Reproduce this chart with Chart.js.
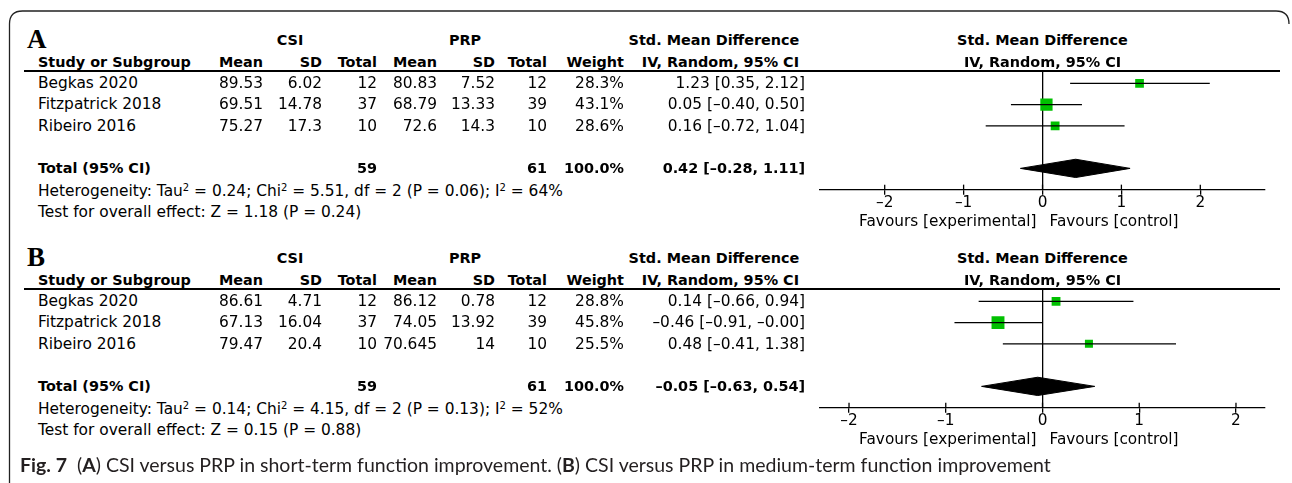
<!DOCTYPE html>
<html>
<head>
<meta charset="utf-8">
<script src="https://cdn.jsdelivr.net/npm/chart.js@4.4.1/dist/chart.umd.min.js"></script>
<style>
body { margin: 0; background: #fff; }
#page { position: relative; width: 1292px; height: 483px; overflow: hidden; font-family: "DejaVu Sans"; font-size: 15.4px; color: #000; }
.t { position: absolute; white-space: nowrap; line-height: 18px; }
.b { font-weight: bold; font-size: 14.4px; }
.t sup { font-size: 10px; line-height: 0; vertical-align: 5px; }
.letter { font-family: "Liberation Serif"; font-weight: bold; font-size: 27px; line-height: 30px; }
.rule { position: absolute; left: 24px; width: 1256px; height: 1.3px; background: #000; }
.wrap { position: absolute; left: 800px; width: 490px; height: 180px; }
#caption { position: absolute; left: 20px; top: 452px; line-height: 26px; font-family: "Lato"; font-size: 19.5px; color: #231f20; white-space: nowrap; }
</style>
</head>
<body>
<div id="page">
  <svg width="1292" height="483" style="position:absolute;left:0;top:0">
    <path d="M9.5 483 L9.5 24 Q9.5 11 22.5 11 L1276 11 Q1289 11 1289 24" fill="none" stroke="#222" stroke-width="1.3"/>
  </svg>
  <div class="wrap" id="wrapA" style="top:60px"><canvas id="plotA"></canvas></div>
  <div class="wrap" id="wrapB" style="top:278px"><canvas id="plotB"></canvas></div>
  <div id="caption"><b>Fig. 7</b>&nbsp; (<b>A</b>) CSI versus PRP in short-term function improvement. (<b>B</b>) CSI versus PRP in medium-term function improvement</div>
</div>
<script>
// studies in both panels
var studies = ['Begkas 2020', 'Fitzpatrick 2018', 'Ribeiro 2016'];

// A: short-term function improvement
var csiMeanA = [89.53, 69.51, 75.27];
var csiSdA = [6.02, 14.78, 17.3];
var csiNA = [12, 37, 10];
var prpMeanA = [80.83, 68.79, 72.6];
var prpSdA = [7.52, 13.33, 14.3];
var prpNA = [12, 39, 10];
var weightA = [28.3, 43.1, 28.6];
var smdA = [1.23, 0.05, 0.16];
var loA = [0.35, -0.40, -0.72];
var hiA = [2.12, 0.50, 1.04];
var totalNA = [59, 61];
var totalA = [0.42, -0.28, 1.11]; // estimate, lower, upper
var hetA = 'Heterogeneity: Tau<sup>2</sup> = 0.24; Chi<sup>2</sup> = 5.51, df = 2 (P = 0.06); I<sup>2</sup> = 64%';
var testA = 'Test for overall effect: Z = 1.18 (P = 0.24)';

// B: medium-term function improvement
var csiMeanB = [86.61, 67.13, 79.47];
var csiSdB = [4.71, 16.04, 20.4];
var csiNB = [12, 37, 10];
var prpMeanB = [86.12, 74.05, 70.645];
var prpSdB = [0.78, 13.92, 14];
var prpNB = [12, 39, 10];
var weightB = [28.8, 45.8, 25.5];
var smdB = [0.14, -0.46, 0.48];
var loB = [-0.66, -0.91, -0.41];
var hiB = [0.94, -0.00, 1.38];
var totalNB = [59, 61];
var totalB = [-0.05, -0.63, 0.54];
var hetB = 'Heterogeneity: Tau<sup>2</sup> = 0.14; Chi<sup>2</sup> = 4.15, df = 2 (P = 0.13); I<sup>2</sup> = 52%';
var testB = 'Test for overall effect: Z = 0.15 (P = 0.88)';

var tickValues = [-2, -1, 0, 1, 2];
var tickLabels = ['\u20132', '\u20131', '0', '1', '2'];
var favourLabels = ['Favours [experimental]', 'Favours [control]'];
var colHeads = ['Mean', 'SD', 'Total', 'Mean', 'SD', 'Total', 'Weight'];

var ROW0 = 83.3, ROW_H = 21.15;
var colRight = [263, 322, 377, 437, 495, 547, 624, 805];

var page = document.getElementById('page');
function put(txt, x, y, align, cls) {
  var d = document.createElement('div');
  d.className = 't ' + (cls || '');
  d.innerHTML = txt;
  d.style.top = (y - 9) + 'px';
  if (align === 'r') d.style.right = (1292 - x) + 'px';
  else if (align === 'c') { d.style.left = x + 'px'; d.style.transform = 'translateX(-50%)'; }
  else d.style.left = x + 'px';
  page.appendChild(d);
}
function num(v) { // dash as minus like RevMan, keeps -0.00
  return (v < 0 || Object.is(v, -0) ? '\u2013' : '') + Math.abs(v).toFixed(2);
}
function ci(e, l, h) { return num(e) + ' [' + num(l) + ', ' + num(h) + ']'; }

function table(off, letter, cm, cs, cn, pm, ps, pn, w, smd, lo, hi, totN, tot, het, test) {
  var d = document.createElement('div');
  d.className = 't letter'; d.textContent = letter;
  d.style.left = '27px'; d.style.top = (off + 24) + 'px';
  page.appendChild(d);
  put('CSI', 290, off + 40, 'c', 'b');
  put('PRP', 465, off + 40, 'c', 'b');
  put('Std. Mean Difference', 714, off + 40, 'c', 'b');
  put('Std. Mean Difference', 1042.5, off + 40, 'c', 'b');
  put('Study or Subgroup', 38, off + 62, 'l', 'b');
  colHeads.forEach(function (h, j) { put(h, colRight[j], off + 62, 'r', 'b'); });
  put('IV, Random, 95% CI', 799, off + 62, 'r', 'b');
  put('IV, Random, 95% CI', 1042.5, off + 62, 'c', 'b');
  var r = document.createElement('div');
  r.className = 'rule'; r.style.top = (off + 70.4) + 'px';
  page.appendChild(r);
  studies.forEach(function (s, i) {
    var y = off + ROW0 + i * ROW_H;
    var cells = [cm[i], cs[i], cn[i], pm[i], ps[i], pn[i], w[i].toFixed(1) + '%', ci(smd[i], lo[i], hi[i])];
    put(s, 38, y, 'l');
    cells.forEach(function (c, j) { put(String(c), colRight[j], y, 'r'); });
  });
  var yt = off + ROW0 + 4 * ROW_H;
  put('Total (95% CI)', 38, yt, 'l', 'b');
  put(String(totN[0]), colRight[2], yt, 'r', 'b');
  put(String(totN[1]), colRight[5], yt, 'r', 'b');
  put('100.0%', colRight[6], yt, 'r', 'b');
  put(ci(tot[0], tot[1], tot[2]), colRight[7], yt, 'r', 'b');
  put(het, 38, off + 190.5, 'l');
  put(test, 38, off + 212, 'l');
}

table(0, 'A', csiMeanA, csiSdA, csiNA, prpMeanA, prpSdA, prpNA, weightA, smdA, loA, hiA, totalNA, totalA, hetA, testA);
table(218, 'B', csiMeanB, csiSdB, csiNB, prpMeanB, prpSdB, prpNB, weightB, smdB, loB, hiB, totalNB, totalB, hetB, testB);

// tick marks above the axis + favours labels under it
var axisExtras = {
  id: 'axisExtras',
  afterDraw: function (chart) {
    var ctx = chart.ctx, xs = chart.scales.x, yb = chart.chartArea.bottom;
    ctx.save();
    ctx.strokeStyle = '#000';
    ctx.lineWidth = 1.3;
    xs.ticks.forEach(function (t) {
      var px = xs.getPixelForValue(t.value);
      ctx.beginPath(); ctx.moveTo(px, yb); ctx.lineTo(px, yb - 5); ctx.stroke();
    });
    ctx.font = '15.3px "DejaVu Sans"';
    ctx.fillStyle = '#000';
    ctx.textBaseline = 'middle';
    var x0 = xs.getPixelForValue(0);
    ctx.textAlign = 'right'; ctx.fillText(favourLabels[0], x0 - 6, yb + 32);
    ctx.textAlign = 'left'; ctx.fillText(favourLabels[1], x0 + 7, yb + 32);
    ctx.restore();
  }
};

function forest(id, smd, lo, hi, weight, total, xMax) {
  var datasets = [];
  smd.forEach(function (v, i) {
    datasets.push({ data: [{ x: lo[i], y: i }, { x: hi[i], y: i }], borderColor: '#000', borderWidth: 1.3, pointRadius: 0, fill: false });
  });
  datasets.push({
    data: smd.map(function (v, i) { return { x: v, y: i }; }),
    showLine: false, pointStyle: 'rect', backgroundColor: '#00c000', borderColor: '#00c000', borderWidth: 0,
    pointRadius: weight.map(function (w) { return (1.8 + 0.23 * w) / 1.35; })
  });
  var tr = smd.length + 1;
  datasets.push({ data: [{ x: total[1], y: tr }, { x: total[0], y: tr - 0.43 }, { x: total[2], y: tr }],
    borderColor: '#000', borderWidth: 1, pointRadius: 0, fill: false, tension: 0 });
  datasets.push({ data: [{ x: total[1], y: tr }, { x: total[0], y: tr + 0.43 }, { x: total[2], y: tr }],
    borderColor: '#000', borderWidth: 1, pointRadius: 0, fill: '-1', backgroundColor: '#000', tension: 0 });

  return new Chart(document.getElementById(id), {
    type: 'line',
    data: { datasets: datasets },
    options: {
      responsive: true, maintainAspectRatio: false, animation: false, devicePixelRatio: 1,
      layout: { padding: { left: 20, right: 25, top: 11, bottom: 29 } },
      plugins: { legend: { display: false }, tooltip: { enabled: false } },
      scales: {
        x: {
          type: 'linear', min: -xMax, max: xMax,
          afterBuildTicks: function (s) { s.ticks = tickValues.map(function (v) { return { value: v }; }); },
          ticks: { callback: function (v, i) { return tickLabels[i]; }, color: '#000', padding: -1, maxRotation: 0, autoSkip: false,
            font: { family: 'DejaVu Sans', size: 15.3 } },
          grid: { drawOnChartArea: true, lineWidth: 1.3, tickLength: 5, tickColor: '#000', tickWidth: 1.3,
            color: function (c) { return c.tick && c.tick.value === 0 ? '#000' : 'rgba(0,0,0,0)'; } },
          border: { display: true, color: '#000', width: 1.3 }
        },
        y: { type: 'linear', display: false, reverse: true, min: -0.58, max: tr + 1 }
      }
    },
    plugins: [axisExtras]
  });
}

forest('plotA', smdA, loA, hiA, weightA, totalA, 2.82);
forest('plotB', smdB, loB, hiB, weightB, totalB, 2.3);
</script>
</body>
</html>
